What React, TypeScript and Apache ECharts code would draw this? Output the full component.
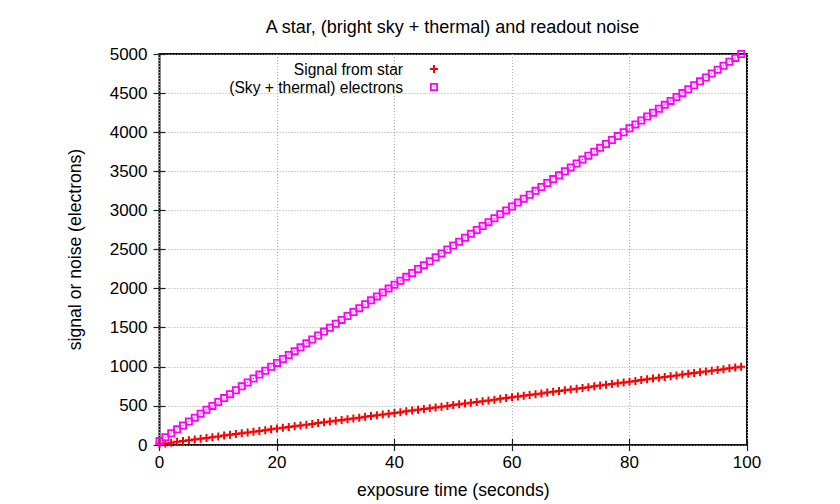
import React, { useEffect, useRef } from "react";
import * as echarts from "echarts";

const titleText = "A star, (bright sky + thermal) and readout noise";
const xName = "exposure time (seconds)";
const yName = "signal or noise (electrons)";
const legendNames = ["Signal from star", "(Sky + thermal) electrons"];

const times = [
  0, 1, 2, 3, 4, 5, 6, 7, 8, 9,
  10, 11, 12, 13, 14, 15, 16, 17, 18, 19,
  20, 21, 22, 23, 24, 25, 26, 27, 28, 29,
  30, 31, 32, 33, 34, 35, 36, 37, 38, 39,
  40, 41, 42, 43, 44, 45, 46, 47, 48, 49,
  50, 51, 52, 53, 54, 55, 56, 57, 58, 59,
  60, 61, 62, 63, 64, 65, 66, 67, 68, 69,
  70, 71, 72, 73, 74, 75, 76, 77, 78, 79,
  80, 81, 82, 83, 84, 85, 86, 87, 88, 89,
  90, 91, 92, 93, 94, 95, 96, 97, 98, 99,
];

const starSignal = [
  10, 20, 30, 40, 50, 60, 70, 80, 90, 100,
  110, 120, 130, 140, 150, 160, 170, 180, 190, 200,
  210, 220, 230, 240, 250, 260, 270, 280, 290, 300,
  310, 320, 330, 340, 350, 360, 370, 380, 390, 400,
  410, 420, 430, 440, 450, 460, 470, 480, 490, 500,
  510, 520, 530, 540, 550, 560, 570, 580, 590, 600,
  610, 620, 630, 640, 650, 660, 670, 680, 690, 700,
  710, 720, 730, 740, 750, 760, 770, 780, 790, 800,
  810, 820, 830, 840, 850, 860, 870, 880, 890, 900,
  910, 920, 930, 940, 950, 960, 970, 980, 990, 1000,
];

const skyElectrons = [
  50, 100, 150, 200, 250, 300, 350, 400, 450, 500,
  550, 600, 650, 700, 750, 800, 850, 900, 950, 1000,
  1050, 1100, 1150, 1200, 1250, 1300, 1350, 1400, 1450, 1500,
  1550, 1600, 1650, 1700, 1750, 1800, 1850, 1900, 1950, 2000,
  2050, 2100, 2150, 2200, 2250, 2300, 2350, 2400, 2450, 2500,
  2550, 2600, 2650, 2700, 2750, 2800, 2850, 2900, 2950, 3000,
  3050, 3100, 3150, 3200, 3250, 3300, 3350, 3400, 3450, 3500,
  3550, 3600, 3650, 3700, 3750, 3800, 3850, 3900, 3950, 4000,
  4050, 4100, 4150, 4200, 4250, 4300, 4350, 4400, 4450, 4500,
  4550, 4600, 4650, 4700, 4750, 4800, 4850, 4900, 4950, 5000,
];

const FONT = "'Liberation Sans', Arial, Helvetica, sans-serif";
const PLUS = "path://M3,0H5V3H8V5H5V8H3V5H0V3H3Z";
const SQUARE = "path://M0,0H8V8H0Z M1.8,1.8V6.2H6.2V1.8Z M3.5,3.5H4.5V4.5H3.5Z";

const W = 840;
const H = 504;

export default function App() {
  const ref = useRef<HTMLDivElement>(null);

  useEffect(() => {
    if (!ref.current) return;
    const chart = echarts.init(ref.current, undefined, { renderer: "svg" });

    const starData = times.map((t, i) => [t, starSignal[i]]);
    const skyData = times.map((t, i) => [t, skyElectrons[i]]);

    const tickStyle = { show: true, inside: true, length: 6, lineStyle: { color: "#222", width: 1.2 } };
    const plain = (v: number) => String(v);

    chart.setOption({
      animation: false,
      backgroundColor: "#ffffff",
      textStyle: { fontFamily: FONT, color: "#000" },
      title: {
        text: titleText,
        left: 447.5,
        textAlign: "center",
        top: 13,
        textStyle: { fontFamily: FONT, fontSize: 18, fontWeight: "normal", color: "#000" },
      },
      legend: {
        data: [
          { name: legendNames[0], icon: PLUS },
          { name: legendNames[1], icon: SQUARE },
        ],
        orient: "vertical",
        align: "right",
        right: 397,
        top: 55,
        itemWidth: 8,
        itemHeight: 8,
        itemGap: 0,
        textStyle: { fontFamily: FONT, fontSize: 15.6, color: "#000", lineHeight: 18, padding: [0, 22, 0, 0] },
      },
      grid: {
        left: 159.5,
        right: 93,
        top: 54,
        bottom: 58,
        show: true,
        borderColor: "#111",
        borderWidth: 2,
        backgroundColor: "transparent",
      },
      xAxis: [
        {
          type: "value",
          min: 0,
          max: 100,
          interval: 20,
          position: "bottom",
          name: xName,
          nameLocation: "middle",
          nameGap: 36,
          nameTextStyle: { fontFamily: FONT, fontSize: 17.6, color: "#000" },
          axisLine: { show: false },
          axisTick: tickStyle,
          axisLabel: { fontFamily: FONT, fontSize: 17, color: "#000", margin: 9, formatter: plain },
          splitLine: { show: true, lineStyle: { color: "#aaa", type: [1, 2], width: 1 } },
        },
        {
          type: "value",
          min: 0,
          max: 100,
          interval: 20,
          position: "top",
          axisLine: { show: false },
          axisTick: tickStyle,
          axisLabel: { show: false },
          splitLine: { show: false },
        },
      ],
      yAxis: [
        {
          type: "value",
          min: 0,
          max: 5000,
          interval: 500,
          position: "left",
          name: yName,
          nameLocation: "middle",
          nameGap: 76,
          nameTextStyle: { fontFamily: FONT, fontSize: 17.6, color: "#000" },
          axisLine: { show: false },
          axisTick: tickStyle,
          axisLabel: { fontFamily: FONT, fontSize: 17, color: "#000", margin: 12, formatter: plain },
          splitLine: { show: true, lineStyle: { color: "#aaa", type: [1, 2], width: 1 } },
        },
        {
          type: "value",
          min: 0,
          max: 5000,
          interval: 500,
          position: "right",
          axisLine: { show: false },
          axisTick: tickStyle,
          axisLabel: { show: false },
          splitLine: { show: false },
        },
      ],
      series: [
        {
          name: legendNames[0],
          type: "scatter",
          data: starData,
          symbol: PLUS,
          symbolSize: 8,
          itemStyle: { color: "#ff0000", opacity: 1 },
          z: 3,
        },
        {
          name: legendNames[1],
          type: "scatter",
          data: skyData,
          symbol: SQUARE,
          symbolSize: 8,
          itemStyle: { color: "#ff00ff", opacity: 1 },
          z: 4,
        },
      ],
    });

    return () => chart.dispose();
  }, []);

  return (
    <div style={{ position: "fixed", left: 0, top: 0, width: W, height: H }}>
      <div ref={ref} style={{ width: W, height: H }} />
    </div>
  );
}
